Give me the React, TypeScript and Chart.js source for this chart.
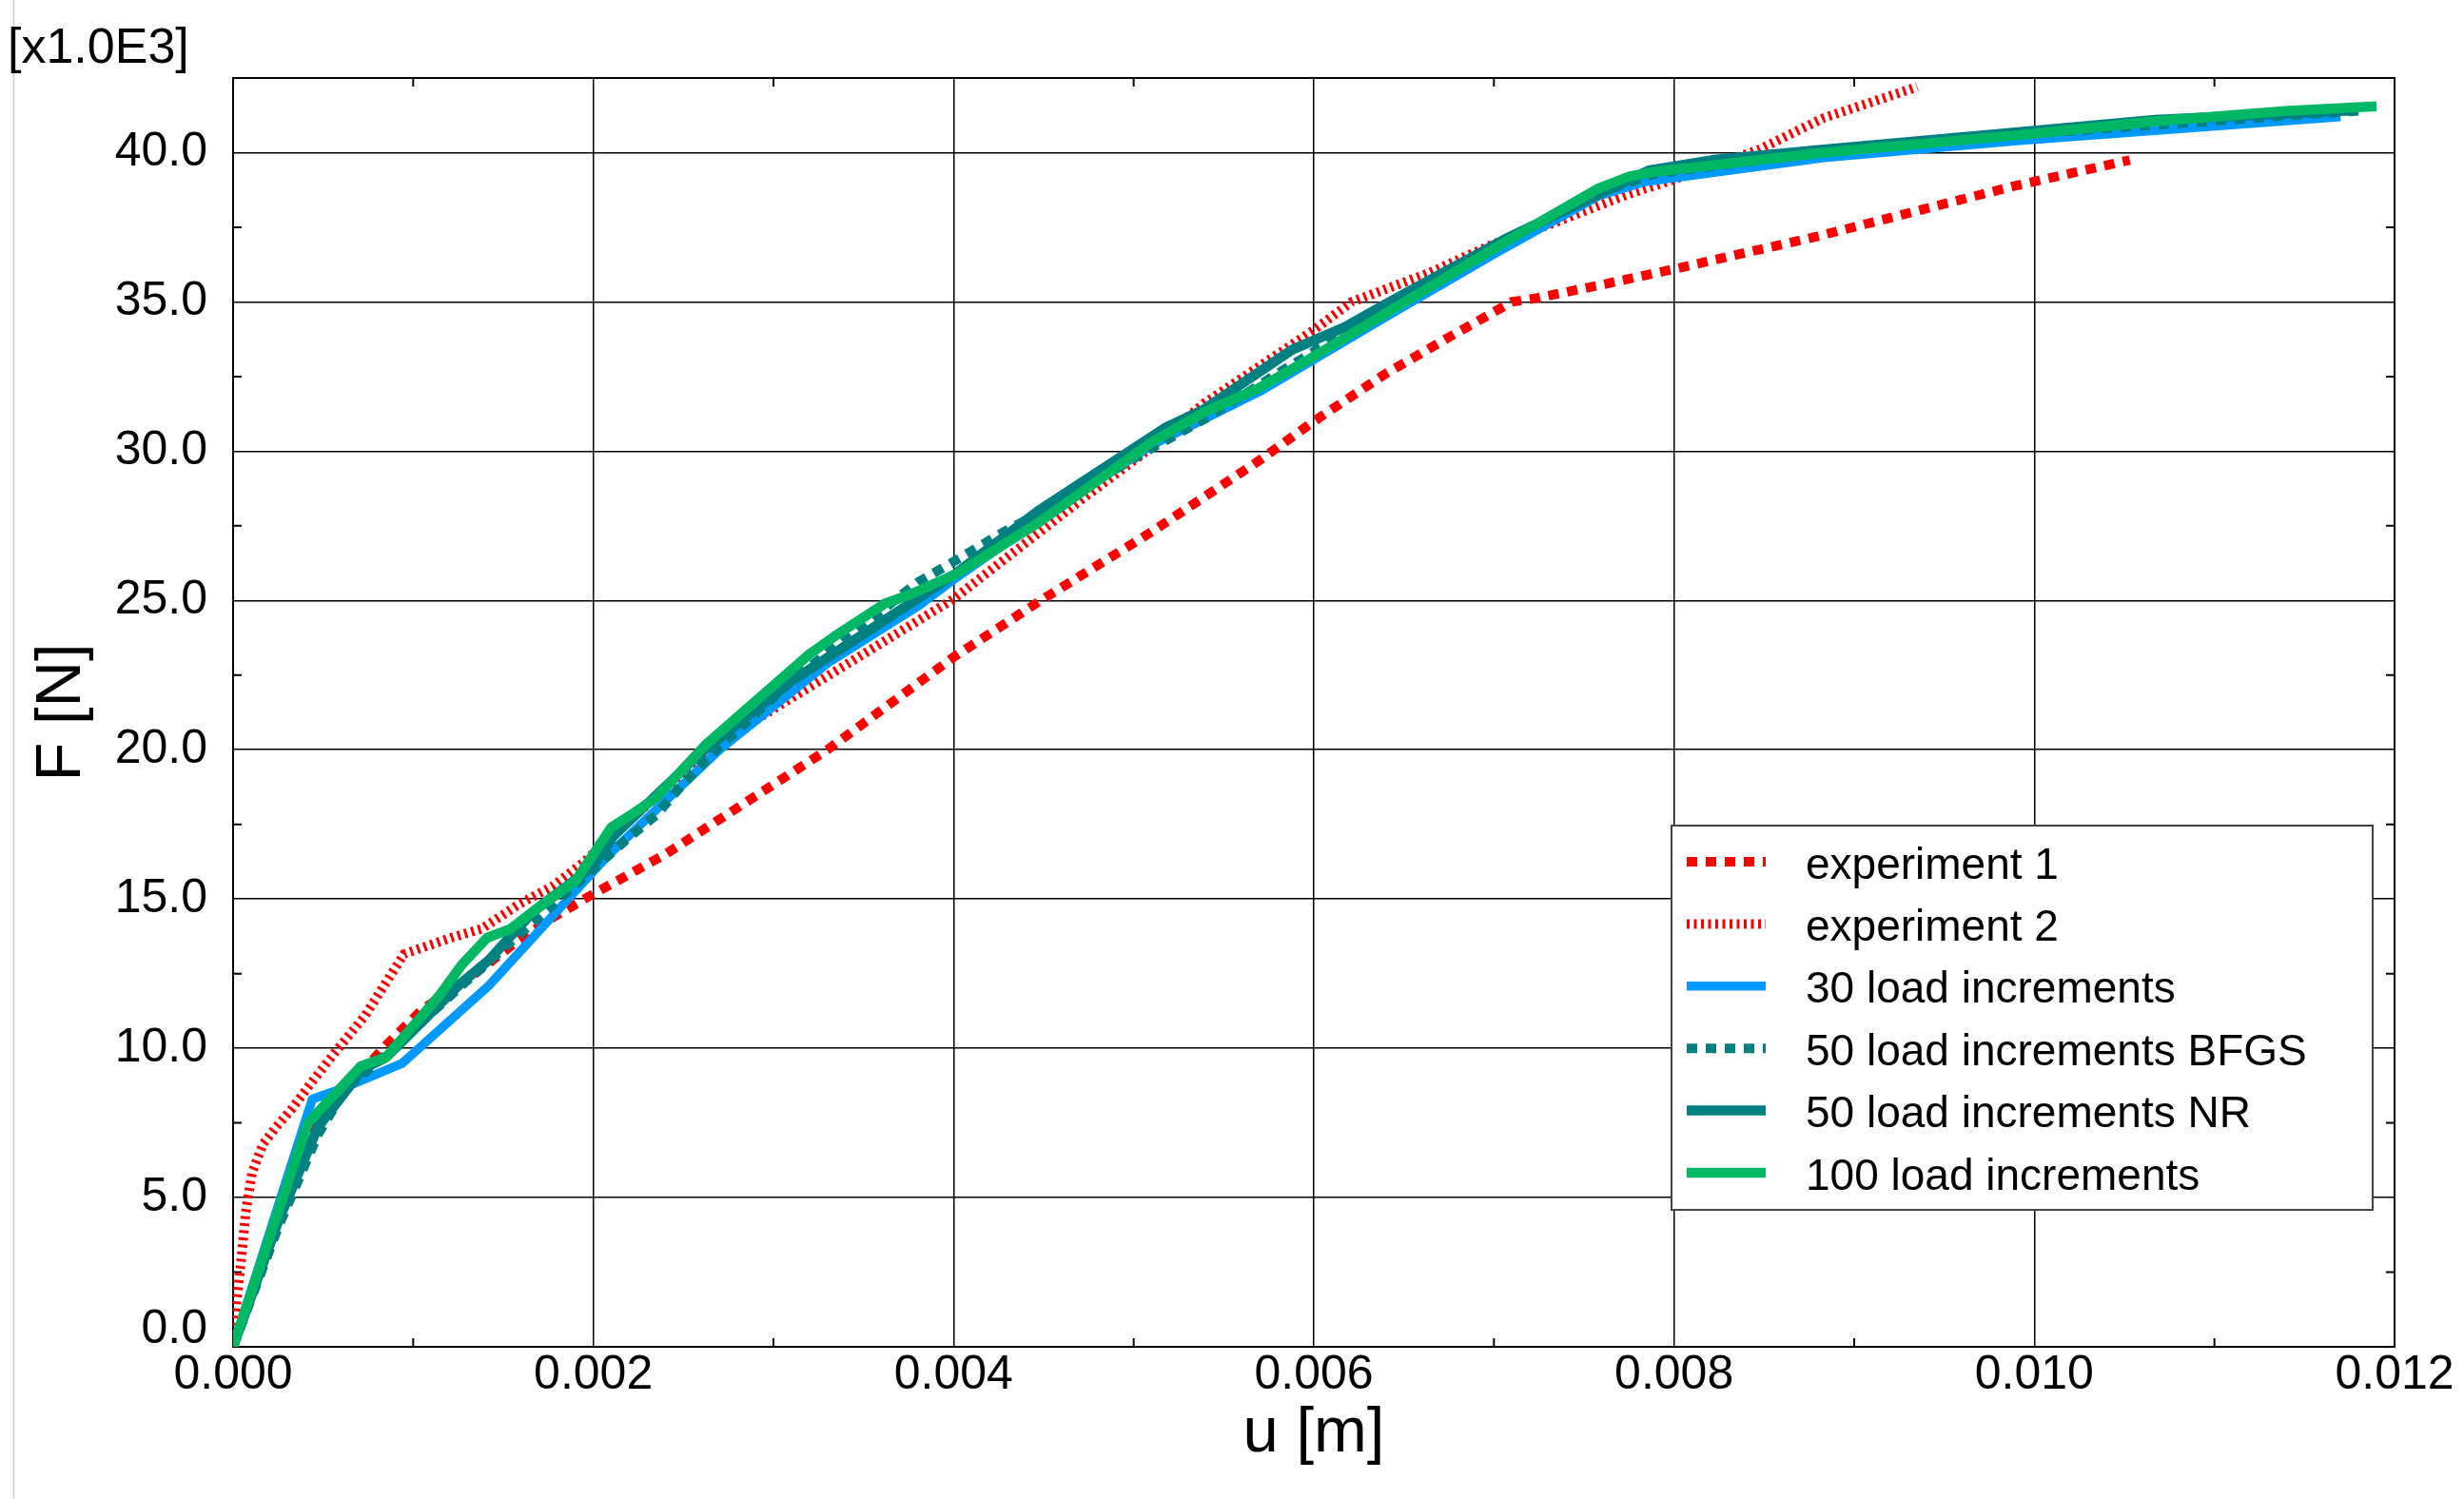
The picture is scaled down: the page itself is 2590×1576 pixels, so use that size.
import React, { useEffect, useRef } from 'react';
import { Chart, registerables } from 'chart.js';

Chart.register(...registerables);

// ---------- data (u in m, F in kN i.e. x1.0E3 N) ----------
const LABELS = [
  'experiment 1',
  'experiment 2',
  '30 load increments',
  '50 load increments BFGS',
  '50 load increments NR',
  '100 load increments',
];

const EXP1_U = [0, 0.00014, 0.00026, 0.00036, 0.00049, 0.00061, 0.00085, 0.00105, 0.0013, 0.00158, 0.00178, 0.00198, 0.0024, 0.0033, 0.004, 0.00451, 0.0051, 0.0057, 0.006, 0.0064, 0.00676, 0.0071, 0.00723, 0.00758, 0.008, 0.0088, 0.0099, 0.01053];
const EXP1_F = [0, 2.3, 4.4, 6.0, 7.7, 8.55, 10.1, 11.3, 12.3, 13.6, 14.4, 15.1, 16.5, 20.0, 23.1, 25.1, 27.3, 29.7, 31.0, 32.6, 33.85, 35.0, 35.12, 35.55, 36.1, 37.2, 38.9, 39.75];

const EXP2_U = [0, 0.00002, 0.00005, 0.00007, 0.000106, 0.000167, 0.000238, 0.000326, 0.000425, 0.000567, 0.00073, 0.00095, 0.00121, 0.00138, 0.00158, 0.00178, 0.00194, 0.00265, 0.004, 0.0047, 0.0051, 0.00539, 0.006, 0.00621, 0.00664, 0.00699, 0.00734, 0.00775, 0.008, 0.00847, 0.00883, 0.00935];
const EXP2_F = [0, 1.5, 3.2, 4.5, 5.85, 6.8, 7.35, 7.97, 8.77, 9.87, 11.07, 13.16, 13.7, 14.0, 14.8, 15.45, 16.2, 20.07, 25.05, 28.33, 30.13, 31.6, 34.06, 35.0, 35.97, 36.92, 37.66, 38.62, 39.1, 40.1, 41.16, 42.2];

const INC30_U = [0, 0.00044, 0.00061, 0.00094, 0.00142, 0.00208, 0.0027, 0.0033, 0.0038, 0.004, 0.0045, 0.0051, 0.0057, 0.0064, 0.007, 0.00758, 0.00784, 0.00883, 0.0099, 0.0117];
const INC30_F = [0, 8.3, 8.66, 9.5, 12.1, 16.45, 20.0, 22.9, 24.8, 25.7, 27.8, 30.2, 32.0, 34.5, 36.6, 38.55, 39.03, 39.83, 40.4, 41.2];

const BFGS_U = [0, 0.00025, 0.00047, 0.00062, 0.00085, 0.00125, 0.0014, 0.00155, 0.00185, 0.00218, 0.00235, 0.00249, 0.0027, 0.0031, 0.0038, 0.004, 0.00428, 0.0045, 0.0051, 0.0054, 0.0058, 0.0064, 0.007, 0.0076, 0.0079, 0.0088, 0.0099, 0.0118];
const BFGS_F = [0, 4.0, 7.1, 8.6, 9.8, 12.0, 12.8, 13.6, 15.2, 16.97, 17.82, 18.8, 20.1, 22.3, 25.6, 26.3, 27.3, 28.0, 30.1, 31.1, 32.6, 34.8, 36.9, 38.7, 39.3, 40.0, 40.6, 41.4];

const NR_U = [0, 0.00025, 0.00047, 0.00072, 0.00085, 0.00126, 0.00142, 0.00154, 0.00167, 0.002, 0.00211, 0.00258, 0.0031, 0.004, 0.00447, 0.00518, 0.00539, 0.00588, 0.00617, 0.00645, 0.00706, 0.00758, 0.00786, 0.00821, 0.00883, 0.00994, 0.01067, 0.01178];
const NR_F = [0, 4.2, 7.35, 9.3, 9.7, 12.15, 12.95, 13.75, 14.6, 16.1, 17.1, 19.8, 22.3, 25.85, 28.0, 30.8, 31.4, 33.4, 34.15, 35.1, 37.1, 38.6, 39.4, 39.75, 40.1, 40.7, 41.1, 41.42];

const INC100_U = [0, 0.000415, 0.00071, 0.00085, 0.00115, 0.00127, 0.00141, 0.00154, 0.00167, 0.0019, 0.0021, 0.00223, 0.00235, 0.00263, 0.0032, 0.00334, 0.00362, 0.00376, 0.00402, 0.00447, 0.0051, 0.00539, 0.00569, 0.00598, 0.00645, 0.00706, 0.00758, 0.00775, 0.00788, 0.00883, 0.00994, 0.01067, 0.01141, 0.0119];
const INC100_F = [0, 7.5, 9.4, 9.7, 11.8, 12.8, 13.7, 14.0, 14.6, 15.6, 17.4, 17.9, 18.4, 20.2, 23.2, 23.8, 24.9, 25.2, 25.9, 27.6, 30.3, 31.3, 32.1, 33.1, 34.8, 37.0, 38.8, 39.2, 39.35, 40.0, 40.6, 41.05, 41.4, 41.55];

const SERIES_U = [EXP1_U, EXP2_U, INC30_U, BFGS_U, NR_U, INC100_U];
const SERIES_F = [EXP1_F, EXP2_F, INC30_F, BFGS_F, NR_F, INC100_F];

const X_TICKS = [0, 0.002, 0.004, 0.006, 0.008, 0.01, 0.012];
const X_MINOR = [0.001, 0.003, 0.005, 0.007, 0.009, 0.011];
const Y_TICKS = [0, 5, 10, 15, 20, 25, 30, 35, 40];
const Y_MINOR = [2.5, 7.5, 12.5, 17.5, 22.5, 27.5, 32.5, 37.5];
const X_MIN = 0, X_MAX = 0.012, Y_MIN = 0, Y_MAX = 42.5;

const X_TITLE = 'u [m]';
const Y_TITLE = 'F [N]';
const UNIT_LABEL = '[x1.0E3]';

// ---------- styles / layout ----------
const W = 2590, H = 1576;
const PLOT_LEFT = 245, PLOT_RIGHT = 2517, PLOT_TOP = 82, PLOT_BOTTOM = 1416;
const FONT = "'Liberation Sans', Arial, Helvetica, sans-serif";

const STYLES = [
  { color: '#ff0000', width: 10, dash: [11, 9] },
  { color: '#ff0000', width: 10, dash: [3, 4.5] },
  { color: '#0099ff', width: 9.5, dash: [] as number[] },
  { color: '#008080', width: 10, dash: [11, 9] },
  { color: '#008080', width: 10.5, dash: [] as number[] },
  { color: '#00b864', width: 10.5, dash: [] as number[] },
];

const LEGEND_BOX = { x: 1757, y: 868, w: 737, h: 404 };
const LEGEND_ROW0 = 906, LEGEND_ROW_STEP = 65.4;
const LEGEND_SAMPLE_X0 = 1773, LEGEND_SAMPLE_X1 = 1856, LEGEND_TEXT_X = 1898;

const decorPlugin = {
  id: 'decor',
  beforeDraw(chart: any) {
    const ctx = chart.ctx;
    ctx.save();
    ctx.fillStyle = '#ffffff';
    ctx.fillRect(0, 0, chart.width, chart.height);
    ctx.strokeStyle = '#cfcfcf';
    ctx.lineWidth = 1.5;
    ctx.beginPath();
    ctx.moveTo(14.5, 0);
    ctx.lineTo(14.5, chart.height);
    ctx.stroke();
    ctx.fillStyle = '#000';
    ctx.font = `52px ${FONT}`;
    ctx.textAlign = 'left';
    ctx.textBaseline = 'alphabetic';
    ctx.fillText(UNIT_LABEL, 8, 66);
    ctx.restore();
  },
  beforeDatasetsDraw(chart: any) {
    const ctx = chart.ctx;
    const { left, right, top, bottom } = chart.chartArea;
    const xs = chart.scales.x, ys = chart.scales.y;
    ctx.save();
    ctx.strokeStyle = '#000';
    ctx.lineWidth = 2;
    ctx.strokeRect(left, top, right - left, bottom - top);
    ctx.beginPath();
    for (const v of X_MINOR) {
      const p = xs.getPixelForValue(v);
      ctx.moveTo(p, bottom); ctx.lineTo(p, bottom - 9);
      ctx.moveTo(p, top); ctx.lineTo(p, top + 9);
    }
    for (const v of Y_MINOR) {
      const p = ys.getPixelForValue(v);
      ctx.moveTo(left, p); ctx.lineTo(left + 9, p);
      ctx.moveTo(right, p); ctx.lineTo(right - 9, p);
    }
    ctx.stroke();
    ctx.restore();
  },
  afterDraw(chart: any) {
    const ctx = chart.ctx;
    ctx.save();
    ctx.fillStyle = '#ffffff';
    ctx.fillRect(LEGEND_BOX.x, LEGEND_BOX.y, LEGEND_BOX.w, LEGEND_BOX.h);
    ctx.strokeStyle = '#444';
    ctx.lineWidth = 2;
    ctx.strokeRect(LEGEND_BOX.x, LEGEND_BOX.y, LEGEND_BOX.w, LEGEND_BOX.h);
    LABELS.forEach((label, i) => {
      const st = STYLES[i];
      const y = LEGEND_ROW0 + i * LEGEND_ROW_STEP;
      ctx.beginPath();
      ctx.strokeStyle = st.color;
      ctx.lineWidth = st.width;
      ctx.lineCap = 'butt';
      ctx.setLineDash(st.dash);
      ctx.moveTo(LEGEND_SAMPLE_X0, y);
      ctx.lineTo(LEGEND_SAMPLE_X1, y);
      ctx.stroke();
      ctx.setLineDash([]);
      ctx.fillStyle = '#000';
      ctx.font = `46px ${FONT}`;
      ctx.textAlign = 'left';
      ctx.textBaseline = 'middle';
      ctx.fillText(label, LEGEND_TEXT_X, y + 5);
    });
    ctx.restore();
  },
};

export default function App() {
  const canvasRef = useRef<HTMLCanvasElement | null>(null);

  useEffect(() => {
    document.body.style.margin = '0';
    document.body.style.overflow = 'hidden';
    const canvas = canvasRef.current;
    if (!canvas) return;

    const datasets = LABELS.map((label, i) => ({
      label,
      data: SERIES_U[i].map((u, k) => ({ x: u, y: SERIES_F[i][k] })),
      borderColor: STYLES[i].color,
      backgroundColor: STYLES[i].color,
      borderWidth: STYLES[i].width,
      borderDash: STYLES[i].dash,
      borderCapStyle: 'butt',
      borderJoinStyle: STYLES[i].dash.length ? 'miter' : 'round',
      pointRadius: 0,
      tension: 0,
      fill: false,
      order: LABELS.length - 1 - i,
    }));

    const tickFont = { family: FONT, size: 50 };
    const titleFont = { family: FONT, size: 67 };

    const chart = new Chart(canvas, {
      type: 'line',
      data: { datasets } as any,
      options: {
        animation: false,
        responsive: false,
        devicePixelRatio: 1,
        events: [],
        layout: { padding: { left: 0, right: W - PLOT_RIGHT, top: PLOT_TOP, bottom: 0 } },
        plugins: {
          legend: { display: false },
          tooltip: { enabled: false },
          title: { display: false },
        },
        scales: {
          x: {
            type: 'linear',
            min: X_MIN,
            max: X_MAX,
            afterFit: (s: any) => { s.height = H - PLOT_BOTTOM; },
            afterBuildTicks: (s: any) => { s.ticks = X_TICKS.map((v) => ({ value: v })); },
            ticks: {
              callback: (v: any) => Number(v).toFixed(3),
              font: tickFont,
              color: '#000',
              padding: 0,
              maxRotation: 0,
              autoSkip: false,
            },
            grid: { color: '#000', lineWidth: 1.5, drawTicks: false },
            border: { display: false },
            title: { display: true, text: X_TITLE, font: titleFont, color: '#000', padding: { top: 0, bottom: 28 } },
          },
          y: {
            type: 'linear',
            min: Y_MIN,
            max: Y_MAX,
            afterFit: (s: any) => { s.width = PLOT_LEFT; },
            afterBuildTicks: (s: any) => { s.ticks = Y_TICKS.map((v) => ({ value: v })); },
            ticks: {
              // the bottom label sits just above the axis line (two-line label lifts it)
              callback: (v: any) => (Number(v) === Y_MIN ? [Number(v).toFixed(1), ''] : Number(v).toFixed(1)),
              font: (c: any) => ({
                family: FONT,
                size: 50,
                lineHeight: c.tick && c.tick.value === Y_MIN ? 0.72 : 1.2,
              }),
              color: '#000',
              padding: 27,
              autoSkip: false,
            },
            grid: { color: '#000', lineWidth: 1.5, drawTicks: false },
            border: { display: false },
            title: { display: true, text: Y_TITLE, font: titleFont, color: '#000', padding: { top: 25, bottom: 0 } },
          },
        },
      } as any,
      plugins: [decorPlugin],
    });

    return () => chart.destroy();
  }, []);

  return (
    <div style={{ width: W, height: H, overflow: 'hidden' }}>
      <canvas ref={canvasRef} width={W} height={H} style={{ width: W, height: H, display: 'block' }} />
    </div>
  );
}
